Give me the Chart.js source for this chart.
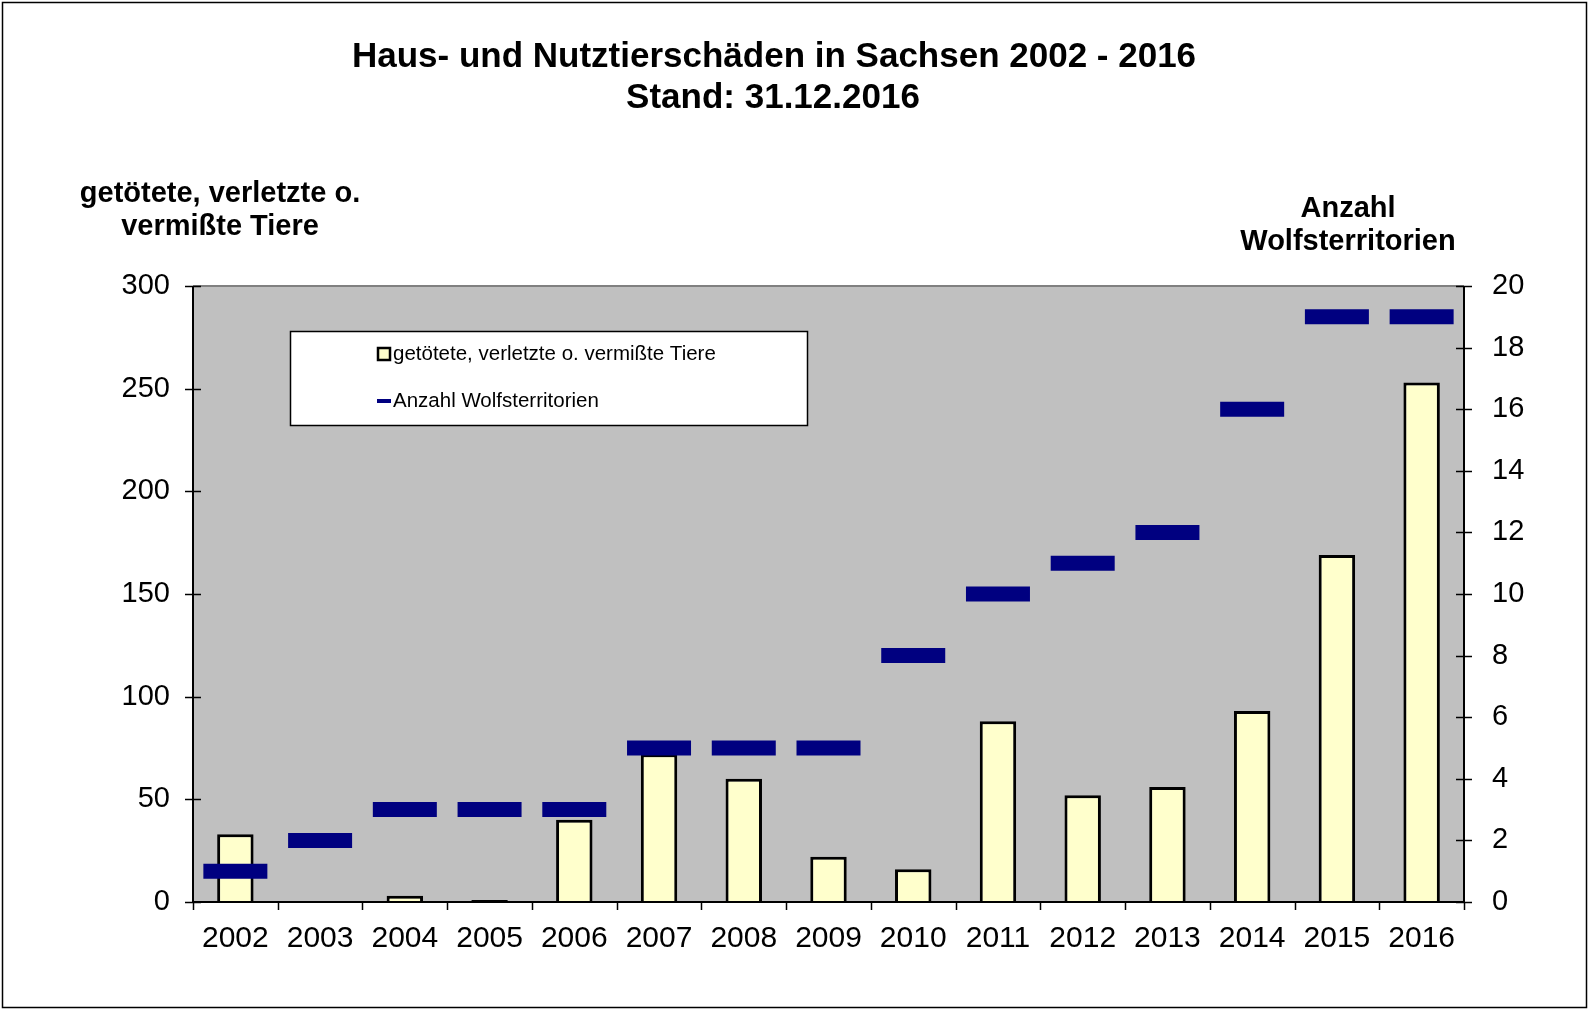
<!DOCTYPE html>
<html>
<head>
<meta charset="utf-8">
<script src="https://cdn.jsdelivr.net/npm/chart.js@4.4.1/dist/chart.umd.min.js"></script>
<style>
html,body{margin:0;padding:0;background:#fff;}
#wrap{position:relative;width:1589px;height:1010px;}
</style>
</head>
<body>
<div id="wrap"><canvas id="c" width="1589" height="1010"></canvas></div>
<script>
const years = ['2002','2003','2004','2005','2006','2007','2008','2009','2010','2011','2012','2013','2014','2015','2016'];
const tiere = [33, 0, 3, 1, 40, 72, 60, 22, 16, 88, 52, 56, 93, 169, 253];
const territorien = [1, 2, 3, 3, 3, 5, 5, 5, 8, 10, 11, 12, 16, 19, 19];
const titleLines = ['Haus- und Nutztierschäden in Sachsen 2002 - 2016', 'Stand: 31.12.2016'];
const leftTitle = ['getötete, verletzte o.', 'vermißte Tiere'];
const rightTitle = ['Anzahl', 'Wolfsterritorien'];
const labelTiere = 'getötete, verletzte o. vermißte Tiere';
const labelTerr = 'Anzahl Wolfsterritorien';

const FONT = "'Liberation Sans', Arial, sans-serif";

const decor = {
  id: 'decor',
  beforeDraw(chart) {
    const {ctx, chartArea: a} = chart;
    ctx.save();
    ctx.fillStyle = '#fff';
    ctx.fillRect(0, 0, chart.width, chart.height);
    ctx.fillStyle = '#C0C0C0';
    ctx.fillRect(a.left, a.top, a.right - a.left, a.bottom - a.top);
    ctx.restore();
  },
  afterDatasetsDraw(chart) {
    const {ctx, chartArea: a, scales} = chart;
    ctx.save();
    ctx.lineWidth = 2;
    ctx.strokeStyle = '#808080';
    ctx.beginPath(); ctx.moveTo(a.left, a.top); ctx.lineTo(a.right, a.top); ctx.stroke();
    ctx.strokeStyle = '#000';
    ctx.beginPath();
    ctx.moveTo(a.left, a.top); ctx.lineTo(a.left, a.bottom); ctx.lineTo(a.right, a.bottom); ctx.lineTo(a.right, a.top);
    ctx.stroke();
    ctx.lineWidth = 1.5;
    scales.y.ticks.forEach(t => {
      const y = Math.round(scales.y.getPixelForValue(t.value)) + 0.5;
      ctx.beginPath(); ctx.moveTo(a.left - 8, y); ctx.lineTo(a.left + 8, y); ctx.stroke();
    });
    scales.y2.ticks.forEach(t => {
      const y = Math.round(scales.y2.getPixelForValue(t.value)) + 0.5;
      ctx.beginPath(); ctx.moveTo(a.right - 8, y); ctx.lineTo(a.right + 8, y); ctx.stroke();
    });
    const n = years.length;
    for (let i = 0; i <= n; i++) {
      const x = Math.round(scales.x.getPixelForValue(i - 0.5)) + 0.5;
      ctx.beginPath(); ctx.moveTo(x, a.bottom); ctx.lineTo(x, a.bottom + 8); ctx.stroke();
    }
    ctx.restore();
  },
  afterDraw(chart) {
    const {ctx} = chart;
    ctx.save();
    ctx.fillStyle = '#000';
    ctx.textAlign = 'center';
    ctx.textBaseline = 'middle';
    ctx.font = 'bold 35px ' + FONT;
    ctx.fillText(titleLines[0], 774, 57);
    ctx.fillText(titleLines[1], 773, 98);
    ctx.font = 'bold 29px ' + FONT;
    ctx.fillText(leftTitle[0], 220, 194);
    ctx.fillText(leftTitle[1], 220, 227);
    ctx.fillText(rightTitle[0], 1348, 209);
    ctx.fillText(rightTitle[1], 1348, 242);
    ctx.fillStyle = '#fff';
    ctx.fillRect(290, 331, 517, 94);
    ctx.strokeStyle = '#000';
    ctx.lineWidth = 1.5;
    ctx.strokeRect(290.5, 331.5, 517, 94);
    ctx.fillStyle = '#FFFFCC';
    ctx.fillRect(378, 348, 12, 12);
    ctx.lineWidth = 2.5;
    ctx.strokeRect(378, 348, 12, 12);
    ctx.fillStyle = '#000';
    ctx.font = '20.5px ' + FONT;
    ctx.textAlign = 'left';
    ctx.fillText(labelTiere, 393, 354);
    ctx.strokeStyle = '#000080';
    ctx.lineWidth = 4;
    ctx.beginPath(); ctx.moveTo(377, 401); ctx.lineTo(391, 401); ctx.stroke();
    ctx.fillText(labelTerr, 393, 401);
    ctx.strokeStyle = '#000';
    ctx.lineWidth = 1.5;
    ctx.strokeRect(2.5, 2.5, 1584, 1005);
    ctx.restore();
  }
};

new Chart(document.getElementById('c'), {
  data: {
    labels: years,
    datasets: [
      {
        type: 'line',
        label: labelTerr,
        data: territorien,
        yAxisID: 'y2',
        showLine: false,
        pointStyle: 'line',
        pointRadius: 32,
        pointHoverRadius: 32,
        pointBorderWidth: 15,
        pointHoverBorderWidth: 15,
        borderColor: '#000080',
        backgroundColor: '#000080',
        order: 0,
        clip: false
      },
      {
        type: 'bar',
        label: labelTiere,
        data: tiere,
        yAxisID: 'y',
        backgroundColor: '#FFFFCC',
        borderColor: '#000',
        borderWidth: 3,
        barPercentage: 0.43,
        categoryPercentage: 1,
        order: 1
      }
    ]
  },
  options: {
    responsive: false,
    animation: false,
    events: [],
    layout: {padding: {left: 0, right: 0, top: 286, bottom: 0}},
    plugins: {legend: {display: false}, tooltip: {enabled: false}, title: {display: false}},
    scales: {
      x: {
        type: 'category',
        offset: true,
        grid: {display: false, drawTicks: false},
        border: {display: false},
        ticks: {color: '#000', font: {family: FONT, size: 30}, padding: 19, maxRotation: 0, autoSkip: false},
        afterFit(s) { s.height = 108; }
      },
      y: {
        position: 'left',
        min: 0, max: 300,
        grid: {display: false, drawTicks: false},
        border: {display: false},
        ticks: {stepSize: 50, color: '#000', font: {family: FONT, size: 29}, padding: 23},
        afterFit(s) { s.width = 193; }
      },
      y2: {
        position: 'right',
        min: 0, max: 20,
        grid: {display: false, drawTicks: false},
        border: {display: false},
        ticks: {stepSize: 2, color: '#000', font: {family: FONT, size: 29}, padding: 28},
        afterFit(s) { s.width = 125; }
      }
    }
  },
  plugins: [decor]
});
</script>
</body>
</html>
